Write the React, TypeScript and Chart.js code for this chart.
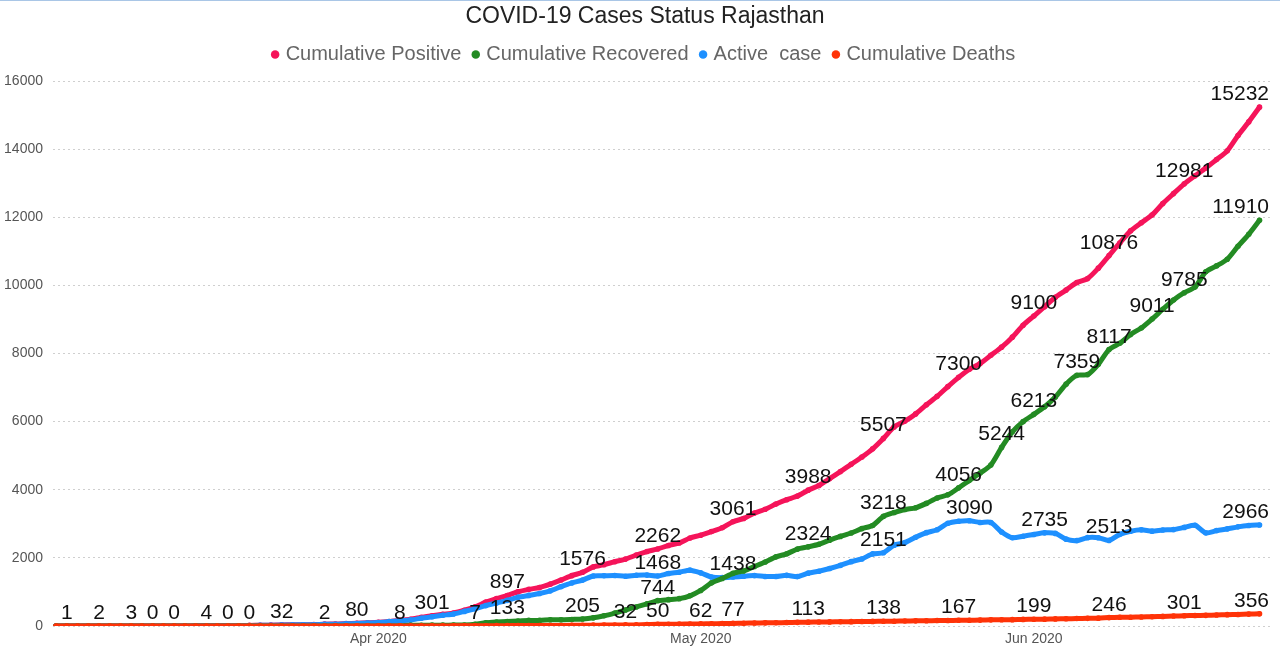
import React, { useEffect, useRef } from 'react';
import { Chart, registerables } from 'chart.js';

Chart.register(...registerables);

// Day index 0 = 2 Mar 2020 ... 112 = 22 Jun 2020
const dayIndex = Array.from({ length: 113 }, (_, i) => i);
const monthTickIndex = [30, 60, 91];
const monthTickLabels = ['Apr 2020', 'May 2020', 'Jun 2020'];

const seriesNames = ['Cumulative Positive', 'Cumulative Recovered', 'Active  case', 'Cumulative Deaths'];
const seriesColors = ['#f5145a', '#238b23', '#1e90ff', '#ff3308'];

const cumulativePositive = [
  1, 1, 2, 2, 2, 2, 2, 3, 3, 3,
  3, 3, 3, 4, 4, 4, 4, 7, 17, 23,
  25, 32, 36, 38, 41, 54, 57, 69, 80, 93,
  108, 133, 167, 200, 253, 301, 343, 383, 463, 561,
  700, 804, 897, 1005, 1076, 1131, 1229, 1351, 1478, 1576,
  1735, 1801, 1888, 1964, 2083, 2185, 2262, 2364, 2438, 2584,
  2666, 2772, 2886, 3061, 3158, 3317, 3427, 3579, 3708, 3814,
  3988, 4126, 4328, 4534, 4747, 4960, 5202, 5507, 5845, 6015,
  6227, 6494, 6742, 7028, 7300, 7536, 7703, 7947, 8187, 8480,
  8831, 9100, 9373, 9652, 9862, 10084, 10199, 10505, 10876, 11245,
  11600, 11838, 12068, 12401, 12694, 12981, 13216, 13448, 13693, 13950,
  14400, 14800, 15232,
];

const cumulativeRecovered = [
  0, 0, 0, 0, 0, 0, 0, 0, 0, 0,
  0, 0, 0, 0, 0, 0, 0, 3, 3, 3,
  3, 3, 3, 3, 3, 3, 3, 3, 3, 3,
  3, 3, 8, 21, 21, 25, 25, 26, 30, 50,
  93, 116, 133, 147, 164, 164, 183, 183, 193, 205,
  240, 300, 380, 470, 560, 650, 744, 773, 803, 886,
  1044, 1267, 1395, 1546, 1616, 1748, 1880, 2030, 2120, 2257,
  2324, 2400, 2520, 2630, 2730, 2860, 2950, 3218, 3330, 3420,
  3470, 3600, 3758, 3850, 4056, 4276, 4490, 4727, 5244, 5700,
  6000, 6213, 6437, 6724, 7100, 7359, 7380, 7684, 8117, 8300,
  8560, 8750, 9011, 9299, 9572, 9785, 9950, 10400, 10572, 10767,
  11150, 11500, 11910,
];

const activeCases = [
  1, 1, 2, 2, 2, 2, 2, 3, 3, 3,
  3, 3, 3, 4, 4, 4, 4, 4, 14, 20,
  22, 29, 33, 35, 37, 49, 51, 63, 74, 87,
  102, 127, 156, 176, 229, 273, 315, 353, 428, 504,
  599, 677, 753, 844, 898, 953, 1032, 1154, 1264, 1348,
  1470, 1475, 1481, 1462, 1490, 1494, 1468, 1540, 1580, 1640,
  1560, 1440, 1420, 1438, 1460, 1480, 1455, 1452, 1487, 1450,
  1551, 1609, 1687, 1779, 1889, 1969, 2117, 2151, 2374, 2448,
  2606, 2741, 2824, 3015, 3077, 3090, 3040, 3040, 2759, 2593,
  2637, 2688, 2735, 2719, 2549, 2507, 2594, 2590, 2513, 2690,
  2781, 2823, 2785, 2820, 2830, 2895, 2958, 2735, 2800, 2850,
  2911, 2951, 2966,
];

const cumulativeDeaths = [
  0, 0, 0, 0, 0, 0, 0, 0, 0, 0,
  0, 0, 0, 0, 0, 0, 0, 0, 0, 0,
  0, 0, 0, 0, 1, 2, 3, 3, 3, 3,
  3, 3, 3, 3, 3, 3, 3, 4, 5, 7,
  8, 11, 11, 14, 14, 14, 14, 14, 21, 23,
  25, 26, 27, 32, 33, 41, 50, 51, 55, 58,
  62, 65, 71, 77, 82, 89, 92, 97, 101, 107,
  113, 117, 121, 125, 128, 131, 135, 138, 141, 147,
  151, 153, 160, 163, 167, 170, 173, 180, 184, 187,
  194, 199, 201, 209, 213, 218, 225, 231, 246, 255,
  259, 265, 272, 282, 292, 301, 308, 313, 321, 333,
  339, 349, 356,
];

// Indices of points whose value is printed above them
const positiveLabelIdx = [1, 4, 7, 14, 21, 28, 35, 42, 49, 56, 63, 70, 77, 84, 91, 98, 105, 112];
const recoveredLabelIdx = [32, 42, 49, 56, 70, 77, 84, 88, 91, 95, 98, 102, 105, 112];
const activeLabelIdx = [56, 63, 77, 85, 92, 98, 112];
const deathsLabelIdx = [9, 11, 16, 18, 25, 39, 53, 56, 60, 63, 70, 77, 84, 91, 98, 105, 112];

const FONT = "'Liberation Sans', Arial, Helvetica, sans-serif";

const valueLabelPlugin = {
  id: 'valueLabels',
  afterDatasetsDraw(chart: any) {
    const { ctx, chartArea } = chart;
    const sets = [positiveLabelIdx, recoveredLabelIdx, activeLabelIdx, deathsLabelIdx];
    ctx.save();
    ctx.font = `21px ${FONT}`;
    ctx.fillStyle = '#111';
    ctx.textAlign = 'left';
    ctx.textBaseline = 'alphabetic';
    sets.forEach((idxs, di) => {
      const meta = chart.getDatasetMeta(di);
      const data = chart.data.datasets[di].data;
      idxs.forEach((i: number) => {
        const pt = meta.data[i];
        if (!pt) return;
        const text = String(data[i]);
        const w = ctx.measureText(text).width;
        let left = pt.x - w / 2;
        if (left + w > chartArea.right - 2) left = chartArea.right - 2 - w;
        if (left < chartArea.left) left = chartArea.left;
        ctx.fillText(text, left, pt.y - 7);
      });
    });
    ctx.restore();
  },
};

const LEGEND_HEIGHT = 50.4;
const layoutTweakPlugin = {
  id: 'layoutTweak',
  beforeLayout(chart: any) {
    const lg = chart.legend;
    if (lg && !lg.__patched) {
      const orig = lg.fit;
      lg.fit = function () {
        orig.call(this);
        this.height = LEGEND_HEIGHT;
      };
      lg.__patched = true;
    }
  },
  afterLayout(chart: any) {
    // let the y tick labels use the space left of the padded box (no clipping)
    if (chart.scales.y) chart.scales.y.left = 0;
  },
};

export default function App() {
  const canvasRef = useRef<HTMLCanvasElement | null>(null);

  useEffect(() => {
    if (!canvasRef.current) return;
    Chart.defaults.font.family = FONT;
    const seriesData = [cumulativePositive, cumulativeRecovered, activeCases, cumulativeDeaths];
    const drawOrder = [3, 1, 2, 0];
    const chart = new Chart(canvasRef.current, {
      type: 'line',
      data: {
        labels: dayIndex,
        datasets: seriesData.map((d, k) => ({
          label: seriesNames[k],
          data: d,
          borderColor: seriesColors[k],
          backgroundColor: seriesColors[k],
          pointBackgroundColor: seriesColors[k],
          borderWidth: 5,
          pointRadius: 2.8,
          pointBorderWidth: 0,
          pointHoverRadius: 0,
          pointStyle: 'circle',
          tension: 0.25,
          fill: false,
          order: drawOrder[k],
          borderCapStyle: 'round',
          borderJoinStyle: 'round',
        })),
      },
      options: {
        responsive: true,
        maintainAspectRatio: false,
        animation: false,
        events: [],
        layout: { padding: { left: 19, right: 9, top: 0, bottom: 0 } },
        plugins: {
          title: {
            display: true,
            text: 'COVID-19 Cases Status Rajasthan',
            color: '#222',
            font: { size: 23, weight: 'normal', family: FONT },
            padding: { top: 3, bottom: 0 },
          },
          legend: {
            display: true,
            position: 'top',
            labels: {
              usePointStyle: true,
              boxWidth: 1,
              boxHeight: 6,
              padding: 14,
              color: '#666',
              font: { size: 20, family: FONT },
              sort: (a: any, b: any) => a.datasetIndex - b.datasetIndex,
              generateLabels: (chart: any) =>
                chart.data.datasets.map((ds: any, i: number) => ({
                  text: ds.label,
                  fillStyle: ds.borderColor,
                  strokeStyle: ds.borderColor,
                  lineWidth: 0,
                  pointStyle: 'circle',
                  hidden: false,
                  datasetIndex: i,
                  fontColor: '#666',
                })),
            },
          },
          tooltip: { enabled: false },
        },
        scales: {
          x: {
            type: 'linear',
            min: -0.279,
            max: 113.07,
            grid: { display: false, drawTicks: false },
            border: { display: false },
            afterBuildTicks: (scale: any) => {
              scale.ticks = monthTickIndex.map((v) => ({ value: v }));
            },
            afterFit: (scale: any) => {
              scale.height = 25;
            },
            ticks: {
              autoSkip: false,
              maxRotation: 0,
              padding: 5,
              color: '#555',
              font: { size: 14, family: FONT },
              callback: (value: any) => {
                const k = monthTickIndex.indexOf(Number(value));
                return k >= 0 ? monthTickLabels[k] : '';
              },
            },
          },
          y: {
            type: 'linear',
            min: 0,
            max: 16000,
            grid: { display: true, drawTicks: false, color: '#cfcfcf', lineWidth: 1 },
            border: { display: false, dash: [2, 3] },
            afterFit: (scale: any) => {
              scale.width = 34;
            },
            ticks: {
              stepSize: 2000,
              padding: 10,
              color: '#555',
              font: { size: 14, family: FONT },
              callback: (value: any) => String(value),
            },
          },
        },
      } as any,
      plugins: [valueLabelPlugin, layoutTweakPlugin],
    });
    return () => chart.destroy();
  }, []);

  return (
    <div style={{ position: 'fixed', left: 0, top: 0, width: 1280, height: 651, background: '#fff' }}>
      <canvas ref={canvasRef} />
      <div style={{ position: 'absolute', left: 0, top: 0, width: '100%', height: 1, background: '#a9c6e6' }} />
    </div>
  );
}
